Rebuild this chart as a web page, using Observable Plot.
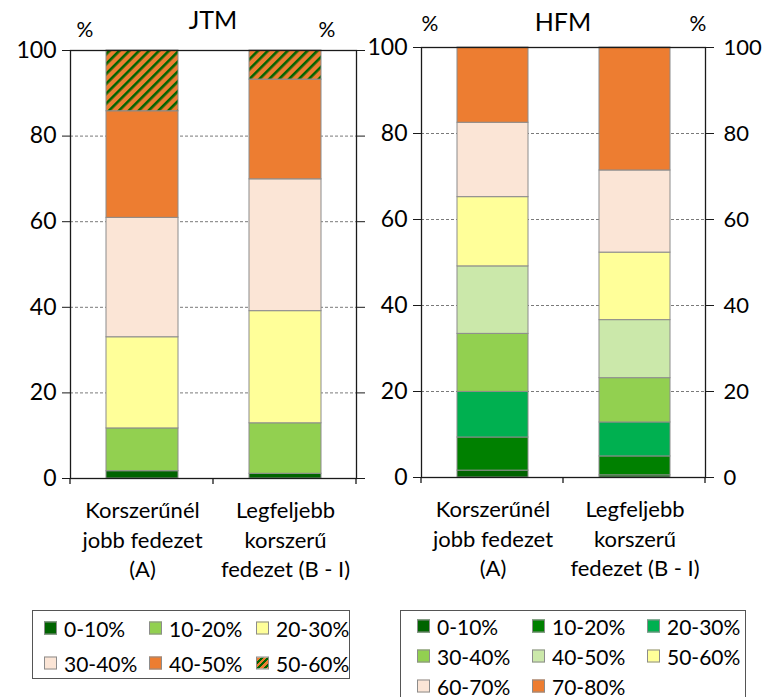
<!DOCTYPE html>
<html><head><meta charset="utf-8">
<script src="https://cdn.jsdelivr.net/npm/d3@7"></script>
<script src="https://cdn.jsdelivr.net/npm/@observablehq/plot@0.6"></script>
<style>
body{margin:0;background:#fff;font-family:Lato, sans-serif;color:#000}
#wrap{position:relative;width:764px;height:697px;overflow:hidden;background:#fff}
.abs{position:absolute;line-height:1;white-space:nowrap;transform:translateX(-50%)}
.title{font-size:25px}
.pct{font-size:21px}
.legend{position:absolute;border:1px solid #555;box-sizing:border-box;background:#fff}
.item{position:absolute;display:flex;align-items:center;font-size:21px;line-height:1;white-space:nowrap;transform:translateY(-50%)}
.sw{width:13px;height:13px;box-sizing:border-box;border:1px solid #8c8c8c;margin-right:7px;flex:none}
.panel{position:absolute;top:0}
</style></head><body><div id="wrap"></div>
<script>
// ---- data ----
const categories = ["Korszerűnél\njobb fedezet\n(A)", "Legfeljebb\nkorszerű\nfedezet (B - I)"];

const jtmBands  = ["0-10%", "10-20%", "20-30%", "30-40%", "40-50%", "50-60%"];
const jtmColors = ["#006400", "#92D050", "#FFFF99", "#FBE5D6", "#ED7D31", "url(#jtmHatch)"];
const jtmA = [1.7, 10.0, 21.3, 27.9, 24.9, 14.2];
const jtmB = [1.1, 11.8, 26.2, 30.8, 23.3, 6.8];

const hfmBands  = ["0-10%", "10-20%", "20-30%", "30-40%", "40-50%", "50-60%", "60-70%", "70-80%"];
const hfmColors = ["#006400", "#008000", "#00B050", "#92D050", "#CBE8AA", "#FFFF99", "#FBE5D6", "#ED7D31"];
const hfmA = [1.6, 7.7, 10.6, 13.5, 15.7, 16.1, 17.3, 17.5];
const hfmB = [0.5, 4.4, 7.9, 10.3, 13.5, 15.7, 19.1, 28.6];

const yTicks = [0, 20, 40, 60, 80, 100];
const gridTicks = [20, 40, 60, 80];

// ---- helpers ----
const NS = "http://www.w3.org/2000/svg";
function rows(bands, a, b) {
  const out = [];
  [a, b].forEach((vals, ci) => vals.forEach((v, bi) => out.push({cat: categories[ci], band: bands[bi], value: v})));
  return out;
}
function hatchDefs(id) {
  return () => {
    const defs = document.createElementNS(NS, "defs");
    defs.innerHTML = `<pattern id="${id}" patternUnits="userSpaceOnUse" width="7" height="7" patternTransform="rotate(45)"><rect width="7" height="7" fill="#ED7D31"/><rect width="2.6" height="7" fill="#006400"/></pattern>`;
    return defs;
  };
}
function catTicks(index, scales, values, dims) {
  const g = document.createElementNS(NS, "g");
  const left = dims.marginLeft, right = dims.width - dims.marginRight;
  const y0 = scales.y(0);
  [left, (left + right) / 2, right].forEach(px => {
    const l = document.createElementNS(NS, "line");
    l.setAttribute("x1", px); l.setAttribute("x2", px);
    l.setAttribute("y1", y0); l.setAttribute("y2", y0 + 6);
    l.setAttribute("stroke", "#1a1a1a"); l.setAttribute("stroke-width", 1.3);
    g.appendChild(l);
  });
  return g;
}
function panel({bands, colors, a, b, width, marginLeft, marginRight, marginTop, marginBottom, rightLabels, defs}) {
  const marks = [];
  if (defs) marks.push(defs);
  marks.push(
    Plot.gridY(gridTicks, {stroke: "#7a7a7a", strokeOpacity: 1, strokeDasharray: "3,2"}),
    Plot.barY(rows(bands, a, b), {x: "cat", y: "value", fill: "band", stroke: "#8c8c8c", strokeWidth: 1}),
    Plot.frame({stroke: "#1a1a1a", strokeWidth: 1.3}),
    Plot.axisY(yTicks, {anchor: "left", tickSize: 8, tickPadding: 6, fontSize: 23, label: null, stroke: "#1a1a1a"}),
    rightLabels
      ? Plot.axisY(yTicks, {anchor: "right", tickSize: 8, tickPadding: 10, fontSize: 22, label: null, stroke: "#1a1a1a"})
      : Plot.axisY(yTicks, {anchor: "right", tickSize: 8, tickFormat: () => "", label: null, stroke: "#1a1a1a"}),
    Plot.axisX({tickSize: 0, tickPadding: 19, fontSize: 22, lineHeight: 1.34, label: null}),
    catTicks
  );
  return Plot.plot({
    width, height: 590, marginLeft, marginRight, marginTop, marginBottom,
    style: {background: "transparent", color: "#000", fontFamily: "Lato, sans-serif", overflow: "visible"},
    x: {domain: categories, paddingInner: 0.5, paddingOuter: 0.25, axis: null},
    y: {domain: [0, 100], axis: null},
    color: {type: "ordinal", domain: bands, range: colors},
    marks
  });
}

const wrap = document.getElementById("wrap");

const jtm = panel({bands: jtmBands, colors: jtmColors, a: jtmA, b: jtmB, width: 370,
  marginLeft: 70, marginRight: 14, marginTop: 50, marginBottom: 112, rightLabels: false, defs: hatchDefs("jtmHatch")});
const jtmDiv = document.createElement("div"); jtmDiv.className = "panel"; jtmDiv.style.left = "0px";
jtmDiv.appendChild(jtm); wrap.appendChild(jtmDiv);

const hfm = panel({bands: hfmBands, colors: hfmColors, a: hfmA, b: hfmB, width: 404,
  marginLeft: 61, marginRight: 59, marginTop: 47, marginBottom: 113, rightLabels: true});
const hfmDiv = document.createElement("div"); hfmDiv.className = "panel"; hfmDiv.style.left = "360px";
hfmDiv.appendChild(hfm); wrap.appendChild(hfmDiv);

// titles
function label(text, cls, cx, top) {
  const d = document.createElement("div");
  d.className = "abs " + cls; d.textContent = text;
  d.style.left = cx + "px"; d.style.top = top + "px";
  wrap.appendChild(d);
}
label("JTM", "title", 213, 7);
label("%", "pct", 85, 18);
label("%", "pct", 327, 18);
label("HFM", "title", 563, 9);
label("%", "pct", 430, 12);
label("%", "pct", 698, 12);

// legends
function legend(bands, colors, box, cols, rowsY) {
  const lg = document.createElement("div");
  lg.className = "legend";
  Object.assign(lg.style, {left: box.x + "px", top: box.y + "px", width: box.w + "px", height: box.h + "px"});
  bands.forEach((bd, i) => {
    const it = document.createElement("div");
    it.className = "item";
    it.style.left = (cols[i % 3] - box.x) + "px";
    it.style.top = (rowsY[Math.floor(i / 3)] - box.y) + "px";
    const sw = document.createElement("div");
    sw.className = "sw";
    if (colors[i].startsWith("url")) sw.style.background = "repeating-linear-gradient(135deg, #ED7D31 0 2.6px, #006400 2.6px 4.6px)";
    else sw.style.background = colors[i];
    const t = document.createElement("span"); t.textContent = bd;
    it.appendChild(sw); it.appendChild(t);
    lg.appendChild(it);
  });
  wrap.appendChild(lg);
}
legend(jtmBands, jtmColors, {x: 32, y: 610, w: 318, h: 69}, [43, 148, 255], [627, 662]);
legend(hfmBands, hfmColors, {x: 400, y: 610, w: 346, h: 100}, [416, 531, 646], [625, 655, 685]);
</script></body></html>
